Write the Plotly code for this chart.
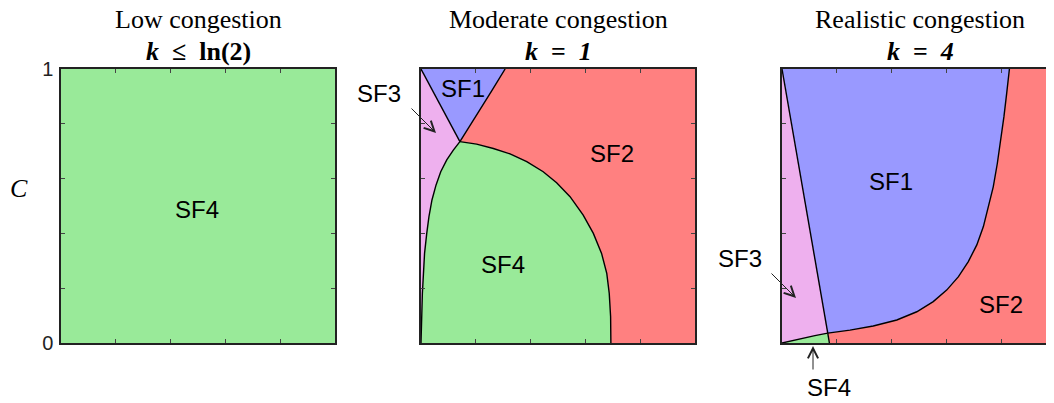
import plotly.graph_objects as go

# ---------------- data ----------------
panel_titles = ["Low congestion", "Moderate congestion", "Realistic congestion"]
panel_k = ["<b><i>k</i>\u2002\u2264\u2002ln(2)</b>", "<b><i>k</i>\u2002=\u2002<i>1</i></b>",
           "<b><i>k</i>\u2002=\u2002<i>4</i></b>"]
y_tick_vals = [0, 0.2, 0.4, 0.6, 0.8, 1]
y_tick_text = ["0", "", "", "", "", "1"]
x_tick_vals = [0.2, 0.4, 0.6, 0.8]

# Moderate congestion (k = 1) boundaries
m_b31_x = [0.0, 0.142]
m_b31_y = [1.0, 0.735]
m_b12_x = [0.142, 0.175, 0.214, 0.258, 0.307]
m_b12_y = [0.735, 0.790, 0.850, 0.920, 1.000]
m_b34_x = [0.0, 0.002, 0.005, 0.009, 0.013, 0.021, 0.029, 0.040, 0.055, 0.072, 0.094, 0.118, 0.142]
m_b34_y = [0.0, 0.096, 0.181, 0.254, 0.327, 0.400, 0.461, 0.522, 0.577, 0.625, 0.668, 0.704, 0.735]
m_b42_x = [0.142, 0.203, 0.264, 0.325, 0.386, 0.446, 0.495, 0.544, 0.592, 0.629, 0.659, 0.678,
           0.687, 0.692, 0.693]
m_b42_y = [0.735, 0.726, 0.710, 0.690, 0.662, 0.625, 0.585, 0.534, 0.467, 0.400, 0.327, 0.254,
           0.181, 0.096, 0.0]

# Realistic congestion (k = 4) boundaries
r_b31_x = [0.0, 0.167]
r_b31_y = [1.0, 0.036]
r_b34_x = [0.0, 0.066, 0.120, 0.167]
r_b34_y = [0.0, 0.016, 0.027, 0.036]
r_b42_x = [0.167, 0.173]
r_b42_y = [0.036, 0.0]
r_b12_x = [0.167, 0.248, 0.333, 0.419, 0.492, 0.552, 0.601, 0.644, 0.680, 0.711, 0.735, 0.754,
           0.771, 0.786, 0.799, 0.810, 0.820, 0.830]
r_b12_y = [0.036, 0.047, 0.062, 0.084, 0.114, 0.151, 0.193, 0.242, 0.297, 0.358, 0.425, 0.497,
           0.570, 0.656, 0.741, 0.826, 0.911, 1.000]

COL = {"SF1": "#9999ff", "SF2": "#ff8080", "SF3": "#eeb0ee", "SF4": "#99ea99"}

fig = go.Figure()


def region(xs, ys, color, ax):
    fig.add_trace(go.Scatter(x=xs, y=ys, mode="lines", fill="toself", fillcolor=color,
                             line=dict(width=0), hoverinfo="skip", showlegend=False,
                             xaxis="x" + ax, yaxis="y" + ax))


def boundary(xs, ys, ax):
    fig.add_trace(go.Scatter(x=xs, y=ys, mode="lines", line=dict(color="black", width=1.4),
                             hoverinfo="skip", showlegend=False, xaxis="x" + ax, yaxis="y" + ax))


# ---- panel 1: all SF4
region([0, 1, 1, 0], [0, 0, 1, 1], COL["SF4"], "")

# ---- panel 2
region(m_b34_x + m_b31_x[::-1], m_b34_y + m_b31_y[::-1], COL["SF3"], "2")
region(m_b31_x + m_b12_x, m_b31_y + m_b12_y, COL["SF1"], "2")
region(m_b12_x + [1, 1] + m_b42_x[::-1], m_b12_y + [1, 0] + m_b42_y[::-1], COL["SF2"], "2")
region(m_b34_x + m_b42_x, m_b34_y + m_b42_y, COL["SF4"], "2")
for bx, by in [(m_b31_x, m_b31_y), (m_b12_x, m_b12_y), (m_b34_x, m_b34_y), (m_b42_x, m_b42_y)]:
    boundary(bx, by, "2")

# ---- panel 3
region(r_b34_x + r_b31_x[::-1], r_b34_y + r_b31_y[::-1], COL["SF3"], "3")
region(r_b31_x + r_b12_x, r_b31_y + r_b12_y, COL["SF1"], "3")
region(r_b12_x + [1, 1] + r_b42_x[::-1], r_b12_y + [1, 0] + r_b42_y[::-1], COL["SF2"], "3")
region(r_b34_x + r_b42_x, r_b34_y + r_b42_y, COL["SF4"], "3")
for bx, by in [(r_b31_x, r_b31_y), (r_b12_x, r_b12_y), (r_b34_x, r_b34_y), (r_b42_x, r_b42_y)]:
    boundary(bx, by, "3")

W, H = 1054, 403
OFF = 8  # page offset of the figure div


def px2x(px):
    return (px - OFF) / W


def py2y(py):
    return 1 - (py - OFF) / H


ydom = [py2y(343), py2y(69)]
xdoms = [[px2x(61), px2x(335)], [px2x(421), px2x(695)], [px2x(782), px2x(1056)]]

axcommon = dict(showgrid=False, zeroline=False, showline=True, linecolor="#222",
                linewidth=1.5, ticks="inside", ticklen=4, tickcolor="#444", tickwidth=1,
                automargin=False, range=[0, 1], fixedrange=True)
layout = dict(width=W, height=H, margin=dict(l=0, r=0, t=0, b=0, pad=0), autosize=False,
              paper_bgcolor="white", plot_bgcolor="white", showlegend=False)
for i in range(3):
    s = "" if i == 0 else str(i + 1)
    layout["xaxis" + s] = dict(axcommon, domain=xdoms[i], mirror="ticks",
                               tickvals=x_tick_vals, showticklabels=False, anchor="y" + s)
    ya = dict(axcommon, domain=ydom, mirror="ticks", tickvals=y_tick_vals, anchor="x" + s)
    if i == 0:
        ya.update(ticktext=y_tick_text, showticklabels=True, ticklabelstandoff=2,
                  tickfont=dict(family="Liberation Sans, Arial, sans-serif", size=20, color="#222"))
    else:
        ya.update(showticklabels=False)
    layout["yaxis" + s] = ya
fig.update_layout(**layout)

annots = []
serif = "Liberation Serif, Times New Roman, serif"
sans = "Liberation Sans, Arial, sans-serif"
centers = [px2x(198), px2x(558), px2x(920)]
for i in range(3):
    annots.append(dict(xref="paper", yref="paper", x=centers[i], y=py2y(20), text=panel_titles[i],
                       showarrow=False, xanchor="center", yanchor="middle", borderpad=0,
                       font=dict(family=serif, size=26, color="black")))
    annots.append(dict(xref="paper", yref="paper", x=centers[i], y=py2y(51), text=panel_k[i],
                       showarrow=False, xanchor="center", yanchor="middle", borderpad=0,
                       font=dict(family=serif, size=26, color="black")))
annots.append(dict(xref="paper", yref="paper", x=px2x(19), y=py2y(188), text="<i>C</i>",
                   showarrow=False, xanchor="center", yanchor="middle",
                   font=dict(family=serif, size=26, color="black")))

# labels inside the plot areas (data coordinates)
labels = [
    ("SF4", "", 0.496, 0.489),
    ("SF1", "2", 0.154, 0.928), ("SF2", "2", 0.698, 0.690), ("SF4", "2", 0.298, 0.287),
    ("SF1", "3", 0.397, 0.589), ("SF2", "3", 0.799, 0.142),
]
for t, ax, x, y in labels:
    annots.append(dict(xref="x" + ax, yref="y" + ax, x=x, y=y, text=t, showarrow=False,
                       xanchor="center", yanchor="middle",
                       font=dict(family=sans, size=24, color="black")))

# labels outside the plot areas (screen positions)
out_labels = [("SF3", 379, 93), ("SF3", 740, 258), ("SF4", 829, 387)]
for t, px, py in out_labels:
    annots.append(dict(xref="paper", yref="paper", x=px2x(px), y=py2y(py), text=t,
                       showarrow=False, xanchor="center", yanchor="middle",
                       font=dict(family=sans, size=24, color="black")))

# pointer arrows: head position and tail offset in pixels
arrows = [(436, 133, -26, -26), (796, 298, -26, -26), (813, 346, 0, 25)]
for hx, hy, dx, dy in arrows:
    annots.append(dict(xref="paper", yref="paper", x=px2x(hx), y=py2y(hy), ax=dx, ay=dy,
                       text="", showarrow=True, arrowhead=5, arrowsize=2, arrowwidth=1,
                       arrowcolor="#222", standoff=0))
fig.update_layout(annotations=annots)

fig.write_html("out.html")
